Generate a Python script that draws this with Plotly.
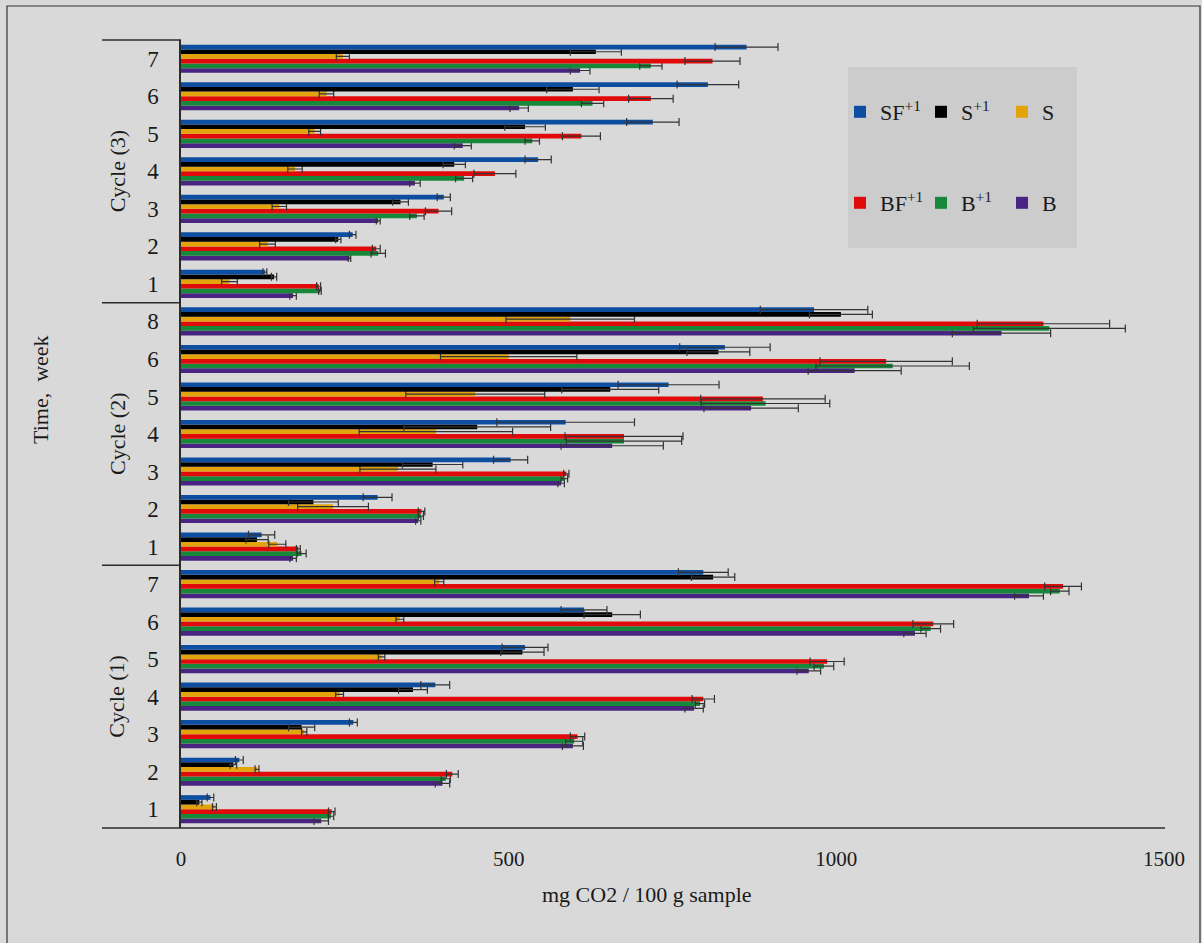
import plotly.graph_objects as go

# Weeks sampled in each composting cycle (bottom to top on the chart)
cycles = ["Cycle (1)", "Cycle (2)", "Cycle (3)"]
weeks_c1 = ["1", "2", "3", "4", "5", "6", "7"]
weeks_c2 = ["1", "2", "3", "4", "5", "6", "8"]
weeks_c3 = ["1", "2", "3", "4", "5", "6", "7"]

# Cumulative CO2 (mg CO2 / 100 g sample) and standard deviations, cycle 1 -> 3
sf1 = [45, 89, 263, 388, 525, 615, 797,
       123, 300, 503, 587, 744, 830, 966,
       128, 262, 401, 545, 720, 804, 863]
sf1_err = [5, 6, 6, 22, 35, 35, 38,
           20, 22, 26, 105, 77, 69, 82,
           3, 5, 10, 20, 40, 47, 48]

s1 = [28, 80, 184, 354, 521, 658, 812,
      116, 202, 384, 452, 655, 820, 1007,
      142, 240, 335, 417, 525, 598, 633]
s1_err = [4, 5, 20, 22, 33, 43, 33,
          17, 38, 46, 112, 74, 48, 48,
          4, 4, 12, 17, 31, 40, 39]

s = [51, 116, 188, 242, 306, 334, 394,
     147, 232, 331, 389, 449, 500, 594,
     74, 132, 150, 174, 204, 222, 247]
s_err = [3, 3, 4, 6, 5, 6, 7,
         13, 54, 58, 117, 106, 104, 98,
         12, 12, 11, 11, 9, 11, 10]

bf1 = [230, 414, 605, 797, 986, 1148, 1346,
       179, 367, 588, 676, 888, 1076, 1316,
       210, 298, 393, 479, 611, 717, 811]
bf1_err = [5, 9, 11, 17, 26, 31, 28,
           3, 5, 4, 90, 95, 101, 101,
           3, 6, 20, 32, 29, 34, 42]

b1 = [229, 404, 600, 792, 981, 1144, 1341,
      184, 366, 585, 676, 892, 1086, 1325,
      212, 301, 360, 432, 536, 628, 717]
b1_err = [4, 7, 13, 7, 15, 15, 14,
          7, 4, 5, 88, 98, 117, 116,
          2, 11, 11, 13, 11, 17, 17]

b = [214, 399, 598, 783, 958, 1120, 1294,
     171, 362, 580, 658, 870, 1028, 1252,
     171, 257, 301, 357, 430, 516, 609]
b_err = [11, 11, 16, 14, 18, 17, 22,
         5, 4, 5, 78, 72, 71, 75,
         5, 2, 3, 8, 13, 14, 15]

x_ticks = [0, 500, 1000, 1500]

# Unique category keys, one per (cycle, week); only the week number is shown
week_lists = [weeks_c1, weeks_c2, weeks_c3]
cat_keys, cat_text = [], []
for ci, wl in enumerate(week_lists):
    for w in wl:
        cat_keys.append(f"{ci + 1}-{w}")
        cat_text.append(w)

FONT = "Liberation Serif, Times New Roman, serif"
TXT = "#1a1a1a"
BG = "#d9d9d9"

W, H = 1202, 943
L, R, T, B = 181, 38, 40, 115
PW, PH = W - L - R, H - T - B


def px(xp):
    return (xp - L) / PW


def py(yp):
    return (H - B - yp) / PH


# Drawing order puts the first trace at the bottom of each group
series = [
    ("B", b, b_err, "#4a2482", "legend2"),
    ("B<sup>+1</sup>", b1, b1_err, "#17883a", "legend2"),
    ("BF<sup>+1</sup>", bf1, bf1_err, "#e00a0a", "legend2"),
    ("S", s, s_err, "#e2a40a", "legend"),
    ("S<sup>+1</sup>", s1, s1_err, "#000000", "legend"),
    ("SF<sup>+1</sup>", sf1, sf1_err, "#0d4ea2", "legend"),
]

fig = go.Figure()
for name, vals, errs, color, leg in series:
    fig.add_trace(go.Bar(
        name=name, x=vals, y=cat_keys, orientation="h",
        marker=dict(color=color, line=dict(width=0)),
        error_x=dict(type="data", array=errs, visible=True,
                     color="#333333", thickness=1.2, width=4),
        legend=leg,
    ))

shapes = []
line = dict(color="#2b2b2b", width=1.5)
# bottom axis line, extended under the category labels
shapes.append(dict(type="line", xref="paper", yref="paper",
                   x0=px(102), x1=px(1165), y0=0, y1=0, line=line))
# top line and cycle separators in the label column
shapes.append(dict(type="line", xref="paper", yref="paper",
                   x0=px(102), x1=0, y0=1, y1=1, line=line))
for yv in [6.5, 13.5]:
    shapes.append(dict(type="line", xref="paper", yref="y",
                       x0=px(102), x1=0, y0=yv, y1=yv, line=line))
# legend panel
shapes.append(dict(type="rect", xref="paper", yref="paper",
                   x0=px(848), x1=px(1077), y0=py(248), y1=py(67),
                   fillcolor="#cccccc", line=dict(width=0), layer="below"))
# outer frame
shapes.append(dict(type="rect", xref="paper", yref="paper",
                   x0=px(7), x1=px(1200), y0=py(960), y1=py(6),
                   line=dict(color="#333333", width=1.2)))

annotations = [
    dict(text="Time,  week", xref="paper", yref="paper", x=px(40), y=py(390),
         xanchor="center", yanchor="middle",
         textangle=-90, showarrow=False, font=dict(family=FONT, size=22, color=TXT)),
    dict(text="mg CO2 / 100 g sample", xref="paper", yref="paper",
         x=px(647), y=py(895), xanchor="center", yanchor="middle", showarrow=False,
         font=dict(family=FONT, size=22, color=TXT)),
]
for ci, cname in enumerate(cycles):
    mid = ci * 7 + 3
    annotations.append(dict(text=cname, xref="paper", yref="y", x=px(117), y=mid,
                            xanchor="center", yanchor="middle",
                            textangle=-90, showarrow=False,
                            font=dict(family=FONT, size=22, color=TXT)))

legend_common = dict(orientation="h", traceorder="reversed", bgcolor="rgba(0,0,0,0)",
                     font=dict(family=FONT, size=22, color=TXT),
                     entrywidth=36, entrywidthmode="pixels",
                     xanchor="left", yanchor="middle", itemclick=False)

fig.update_layout(
    width=W, height=H,
    margin=dict(l=L, r=R, t=T, b=B),
    paper_bgcolor=BG, plot_bgcolor=BG,
    barmode="group", bargap=0.25, bargroupgap=0,
    font=dict(family=FONT, size=22, color=TXT),
    xaxis=dict(range=[0, 1500], tickvals=x_ticks, showgrid=False, zeroline=False,
               showline=False, ticks="", ticklabelstandoff=16,
               tickfont=dict(family=FONT, size=21, color=TXT)),
    yaxis=dict(type="category", categoryorder="array", categoryarray=cat_keys,
               tickvals=cat_keys, ticktext=cat_text, range=[-0.5, 20.5],
               showgrid=False, zeroline=False, showline=True,
               linecolor="#2b2b2b", linewidth=1.5, ticks="", ticklabelstandoff=16,
               tickfont=dict(family=FONT, size=23, color=TXT)),
    legend=dict(x=px(840), y=py(112), **legend_common),
    legend2=dict(x=px(840), y=py(203), **legend_common),
    shapes=shapes,
    annotations=annotations,
)

fig.write_html("out.html")
